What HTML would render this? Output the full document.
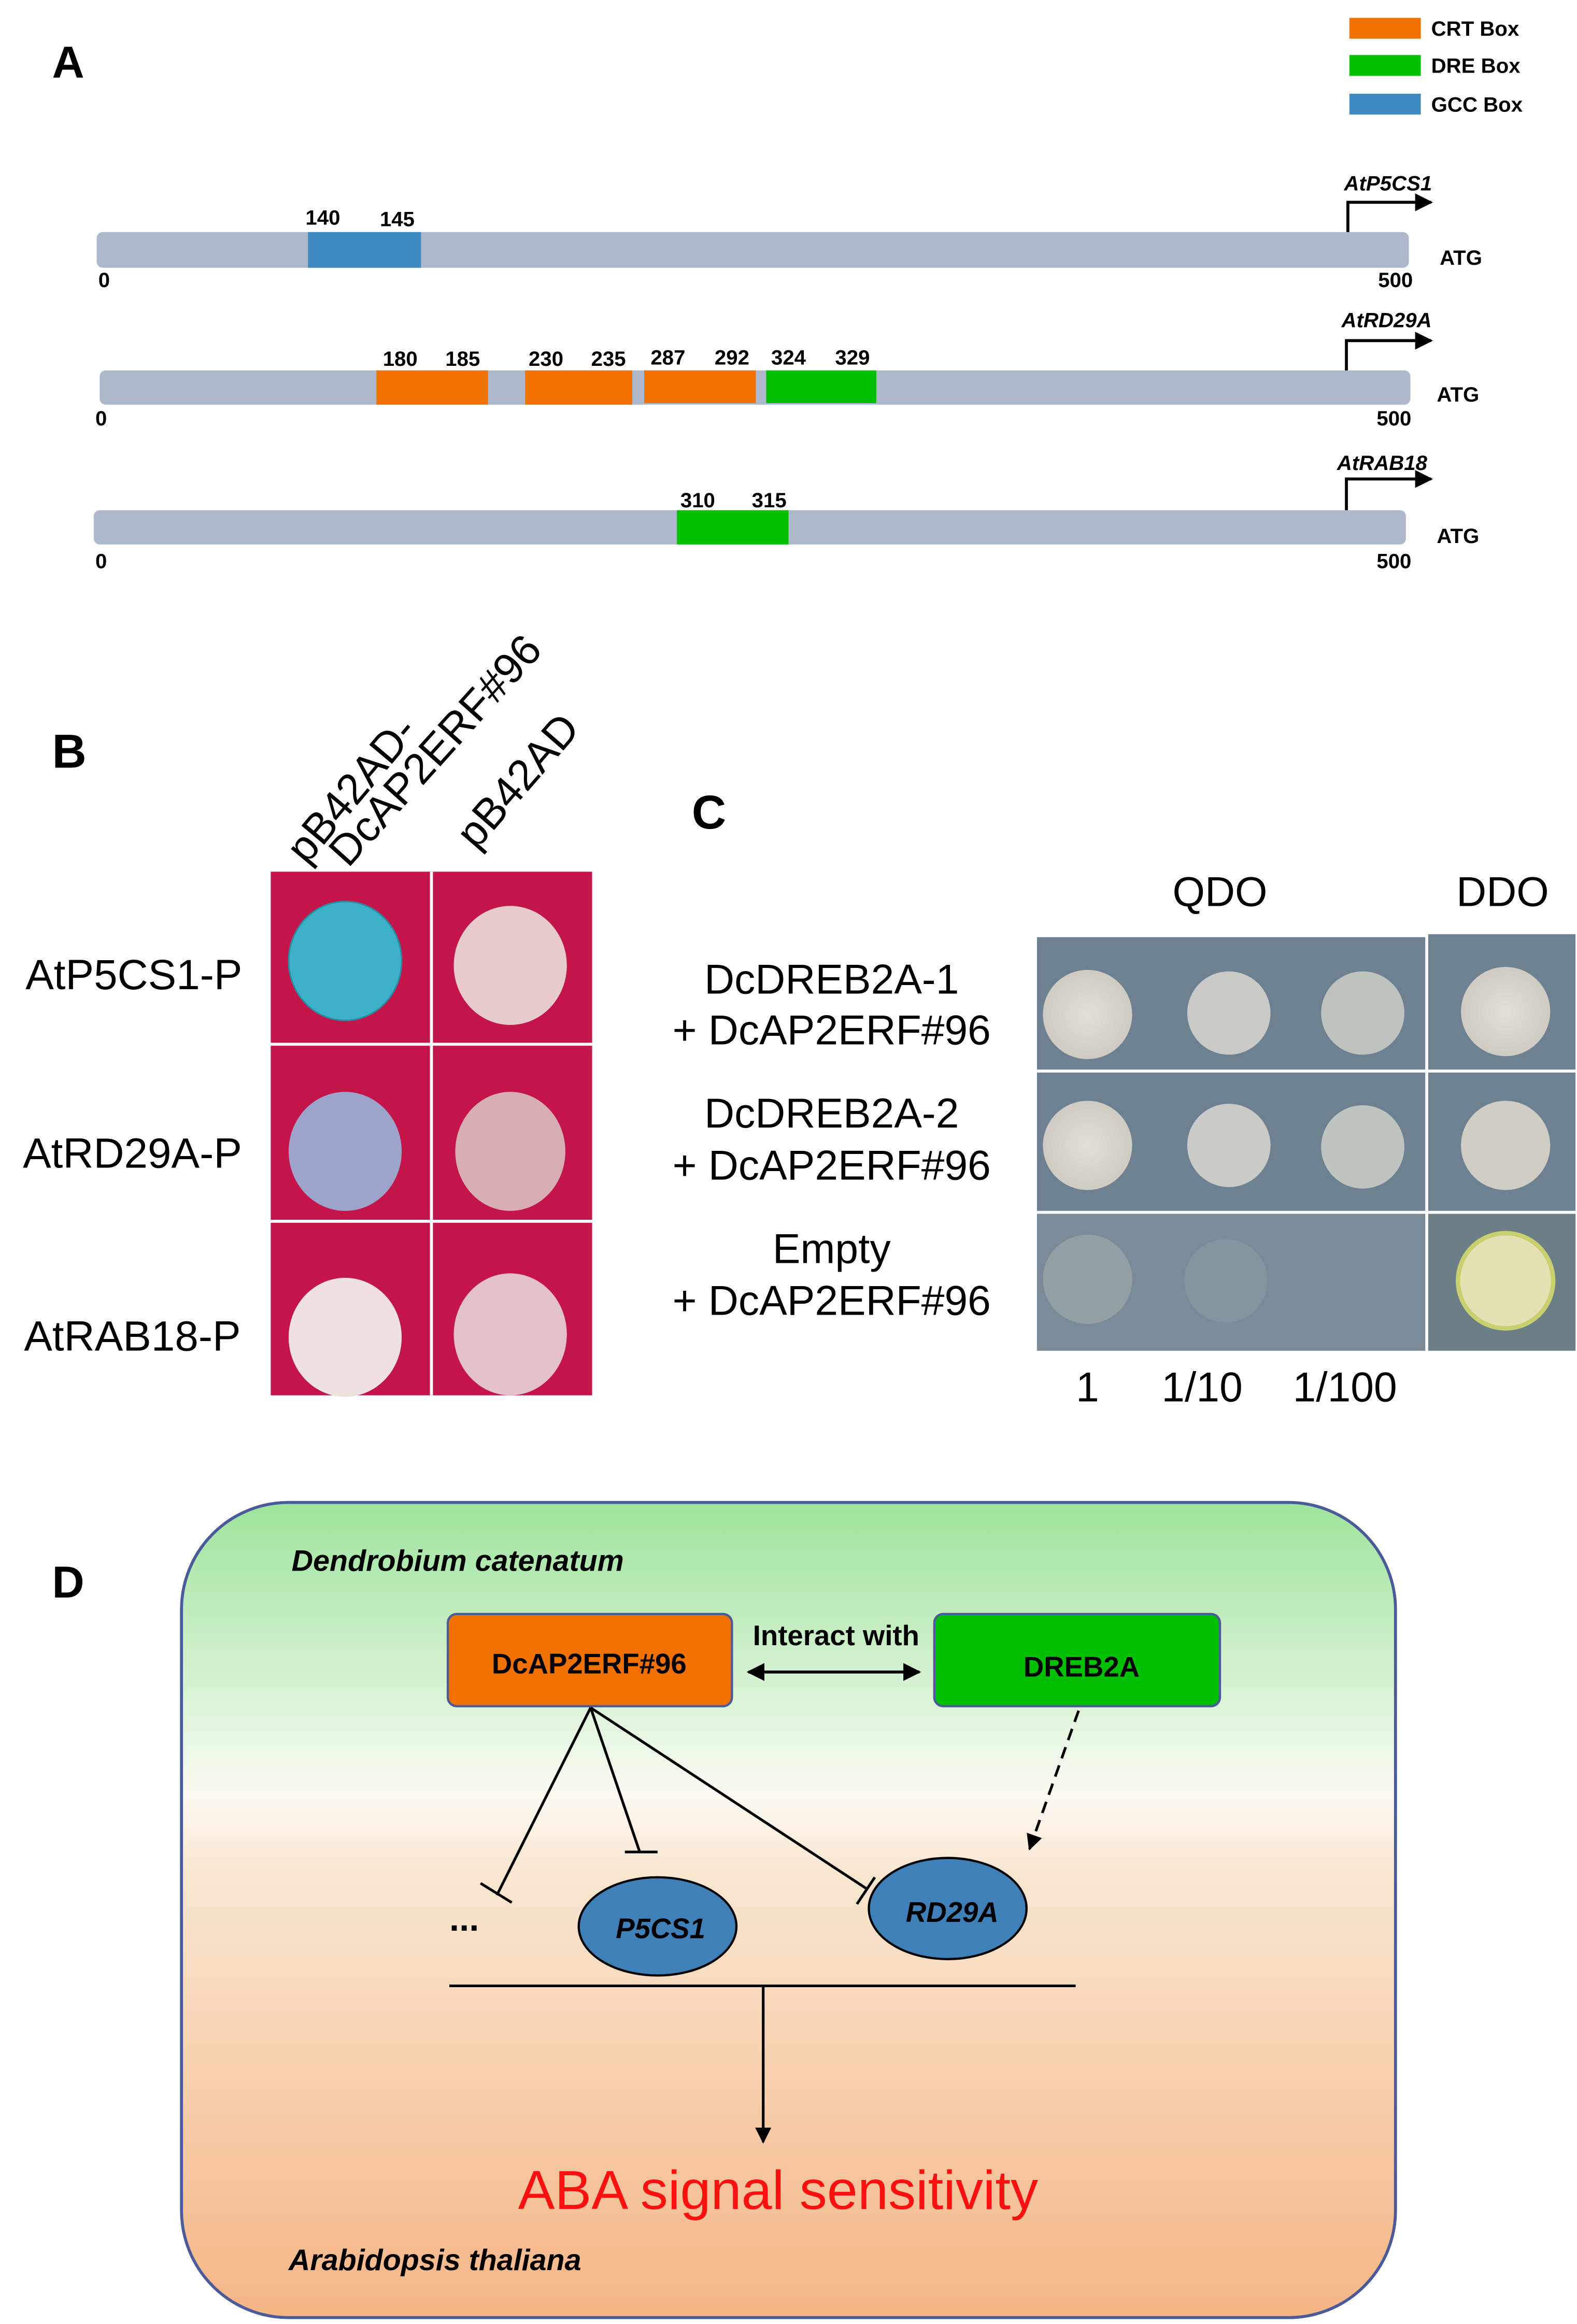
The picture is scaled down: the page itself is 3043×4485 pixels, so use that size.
<!DOCTYPE html>
<html><head><meta charset="utf-8"><style>
html,body{margin:0;padding:0;background:#fff}
svg{display:block}
text{font-family:"Liberation Sans",Arial,sans-serif}
</style></head><body>
<svg width="3043" height="4485" viewBox="0 0 1060 1562.3" xmlns="http://www.w3.org/2000/svg">
<defs>
<linearGradient id="bg" x1="0" y1="0" x2="0" y2="1">
<stop offset="0" stop-color="#9ee39c"/>
<stop offset="0.3" stop-color="#eaf8e6"/>
<stop offset="0.36" stop-color="#fdf9f2"/>
<stop offset="0.45" stop-color="#f9e7d2"/>
<stop offset="1" stop-color="#f5b585"/>
</linearGradient>
<marker id="ah" viewBox="0 0 10 10" refX="9" refY="5" markerWidth="6" markerHeight="6" orient="auto-start-reverse"><path d="M0,0L10,5L0,10z" fill="#000"/></marker>
<radialGradient id="sp" cx="0.5" cy="0.5" r="0.5"><stop offset="0" stop-color="#e4e0d8"/><stop offset="1" stop-color="#cfcbc2"/></radialGradient>
</defs>
<!-- Panel A -->
<text x="35" y="52" font-size="30" font-weight="bold">A</text>
<rect x="907" y="12" width="48" height="14" fill="#f07000"/><text x="962" y="24" font-size="14" font-weight="bold">CRT Box</text>
<rect x="907" y="37" width="48" height="14" fill="#00c000"/><text x="962" y="49" font-size="14" font-weight="bold">DRE Box</text>
<rect x="907" y="63" width="48" height="14" fill="#3f8ac0"/><text x="962" y="75" font-size="14" font-weight="bold">GCC Box</text>
<g font-size="14" font-weight="bold" text-anchor="middle">
<rect x="65" y="156" width="882" height="24" rx="4" fill="#adb9ca"/>
<rect x="207" y="156" width="76" height="24" fill="#3f8ac0"/>
<text x="217" y="151">140</text><text x="267" y="152">145</text>
<text x="70" y="193">0</text><text x="938" y="193">500</text>
<text x="982" y="178">ATG</text>
<path d="M906,156V136H962" fill="none" stroke="#000" stroke-width="2" marker-end="url(#ah)"/>
<text x="933" y="128" font-style="italic">AtP5CS1</text>

<rect x="67" y="249" width="881" height="23" rx="4" fill="#adb9ca"/>
<rect x="253" y="249" width="75" height="23" fill="#f07000"/>
<rect x="353" y="249" width="72" height="23" fill="#f07000"/>
<rect x="433" y="249" width="75" height="22" fill="#f07000"/>
<rect x="515" y="249" width="74" height="22" fill="#00c000"/>
<text x="269" y="246">180</text><text x="311" y="246">185</text><text x="367" y="246">230</text><text x="409" y="246">235</text><text x="449" y="245">287</text><text x="492" y="245">292</text><text x="530" y="245">324</text><text x="573" y="245">329</text>
<text x="68" y="286">0</text><text x="937" y="286">500</text>
<text x="980" y="270">ATG</text>
<path d="M905,249V229H962" fill="none" stroke="#000" stroke-width="2" marker-end="url(#ah)"/>
<text x="932" y="220" font-style="italic">AtRD29A</text>

<rect x="63" y="343" width="882" height="23" rx="4" fill="#adb9ca"/>
<rect x="455" y="343" width="75" height="23" fill="#00c000"/>
<text x="469" y="341">310</text><text x="517" y="341">315</text>
<text x="68" y="382">0</text><text x="937" y="382">500</text>
<text x="980" y="365">ATG</text>
<path d="M905,343V322H962" fill="none" stroke="#000" stroke-width="2" marker-end="url(#ah)"/>
<text x="929" y="316" font-style="italic">AtRAB18</text>
</g>
<!-- Panel B -->
<text x="35" y="516" font-size="32" font-weight="bold">B</text>
<rect x="182" y="586" width="216" height="352" fill="#c4154a"/>
<line x1="290" y1="586" x2="290" y2="938" stroke="#fff" stroke-width="2"/>
<line x1="182" y1="702" x2="398" y2="702" stroke="#fff" stroke-width="2"/>
<line x1="182" y1="821" x2="398" y2="821" stroke="#fff" stroke-width="2"/>
<ellipse cx="232" cy="646" rx="38" ry="40" fill="#3cb0c6" stroke="#2a8aa0" stroke-width="1"/>
<ellipse cx="343" cy="649" rx="38" ry="40" fill="#e8cccc"/>
<ellipse cx="232" cy="774" rx="38" ry="40" fill="#9ca4cc"/>
<ellipse cx="343" cy="774" rx="37" ry="40" fill="#d8aeb2"/>
<ellipse cx="232" cy="899" rx="38" ry="40" fill="#f0e0de"/>
<ellipse cx="343" cy="897" rx="38" ry="41" fill="#e4c2c8"/>
<g font-size="28.5" text-anchor="middle">
<text x="90" y="665">AtP5CS1-P</text>
<text x="89" y="785">AtRD29A-P</text>
<text x="89" y="908">AtRAB18-P</text>
</g>
<g font-size="29">
<text transform="translate(206,582) rotate(-50)">pB42AD-</text>
<text transform="translate(234,584) rotate(-48)">DcAP2ERF#96</text>
<text transform="translate(320,572) rotate(-49)">pB42AD</text>
</g>
<!-- Panel C -->
<text x="465" y="557" font-size="32" font-weight="bold">C</text>
<rect x="697" y="630" width="261" height="278" fill="#6e8192"/>
<rect x="960" y="628" width="99" height="280" fill="#6e8192"/>
<rect x="697" y="816" width="261" height="92" fill="#7a8a96"/>
<rect x="960" y="816" width="99" height="92" fill="#6d7f86"/>
<line x1="697" y1="720" x2="1059" y2="720" stroke="#fff" stroke-width="2"/>
<line x1="697" y1="815" x2="1059" y2="815" stroke="#fff" stroke-width="2"/>
<circle cx="731" cy="682" r="30" fill="url(#sp)"/><circle cx="826" cy="681" r="28" fill="#c9cac6"/><circle cx="916" cy="681" r="28" fill="#bfc2bf"/><circle cx="1012" cy="680" r="30" fill="url(#sp)"/>
<circle cx="731" cy="770" r="30" fill="url(#sp)"/><circle cx="826" cy="770" r="28" fill="#cacbc7"/><circle cx="916" cy="771" r="28" fill="#c0c3c0"/><circle cx="1012" cy="770" r="30" fill="#cfcdc4"/>
<circle cx="731" cy="860" r="30" fill="#92a0a6"/><circle cx="824" cy="861" r="28" fill="#84949e"/><circle cx="1012" cy="861" r="32" fill="#e4e2b4" stroke="#c8d070" stroke-width="3"/>
<g font-size="28" text-anchor="middle">
<text x="820" y="609">QDO</text><text x="1010" y="609">DDO</text>
<text x="559" y="668">DcDREB2A-1</text><text x="559" y="702">+ DcAP2ERF#96</text>
<text x="559" y="758">DcDREB2A-2</text><text x="559" y="793">+ DcAP2ERF#96</text>
<text x="559" y="849">Empty</text><text x="559" y="884">+ DcAP2ERF#96</text>
<text x="731" y="942">1</text><text x="808" y="942">1/10</text><text x="904" y="942">1/100</text>
</g>
<!-- Panel D -->
<text x="35" y="1074" font-size="30" font-weight="bold">D</text>
<rect x="122" y="1010" width="816" height="548" rx="72" fill="url(#bg)" stroke="#4a5a9a" stroke-width="2"/>
<text x="196" y="1056" font-size="20" font-weight="bold" font-style="italic">Dendrobium catenatum</text>
<rect x="301" y="1085" width="191" height="62" rx="6" fill="#f07000" stroke="#4a5a9a" stroke-width="1.5"/>
<text x="396" y="1125" font-size="19" font-weight="bold" text-anchor="middle">DcAP2ERF#96</text>
<rect x="628" y="1085" width="192" height="62" rx="6" fill="#00c000" stroke="#4a5a9a" stroke-width="1.5"/>
<text x="727" y="1127" font-size="19" font-weight="bold" text-anchor="middle">DREB2A</text>
<text x="562" y="1106" font-size="19" font-weight="bold" text-anchor="middle">Interact with</text>
<line x1="503" y1="1124" x2="618" y2="1124" stroke="#000" stroke-width="2" marker-start="url(#ah)" marker-end="url(#ah)"/>
<g stroke="#000" stroke-width="1.8" fill="none">
<line x1="397" y1="1148" x2="334" y2="1274"/><line x1="323" y1="1266" x2="344" y2="1279"/>
<line x1="397" y1="1148" x2="430" y2="1245"/><line x1="420" y1="1245" x2="442" y2="1245"/>
<line x1="397" y1="1148" x2="583" y2="1270"/><line x1="576" y1="1280" x2="588" y2="1262"/>
<line x1="725" y1="1150" x2="692" y2="1243" stroke-dasharray="8,5" marker-end="url(#ah)"/>
<line x1="302" y1="1335" x2="723" y2="1335"/>
<line x1="513" y1="1335" x2="513" y2="1440" marker-end="url(#ah)"/>
</g>
<ellipse cx="442" cy="1295" rx="53" ry="33" fill="#3f80b8" stroke="#000" stroke-width="1.5"/>
<text x="444" y="1303" font-size="19" font-weight="bold" font-style="italic" text-anchor="middle">P5CS1</text>
<ellipse cx="637" cy="1283" rx="53" ry="34" fill="#3f80b8" stroke="#000" stroke-width="1.5"/>
<text x="640" y="1292" font-size="19" font-weight="bold" font-style="italic" text-anchor="middle">RD29A</text>
<text x="312" y="1298" font-size="24" font-weight="bold" text-anchor="middle">...</text>
<text x="523" y="1485" font-size="37" fill="#ff1010" text-anchor="middle">ABA signal sensitivity</text>
<text x="194" y="1526" font-size="20" font-weight="bold" font-style="italic">Arabidopsis thaliana</text>
</svg>
</body></html>
